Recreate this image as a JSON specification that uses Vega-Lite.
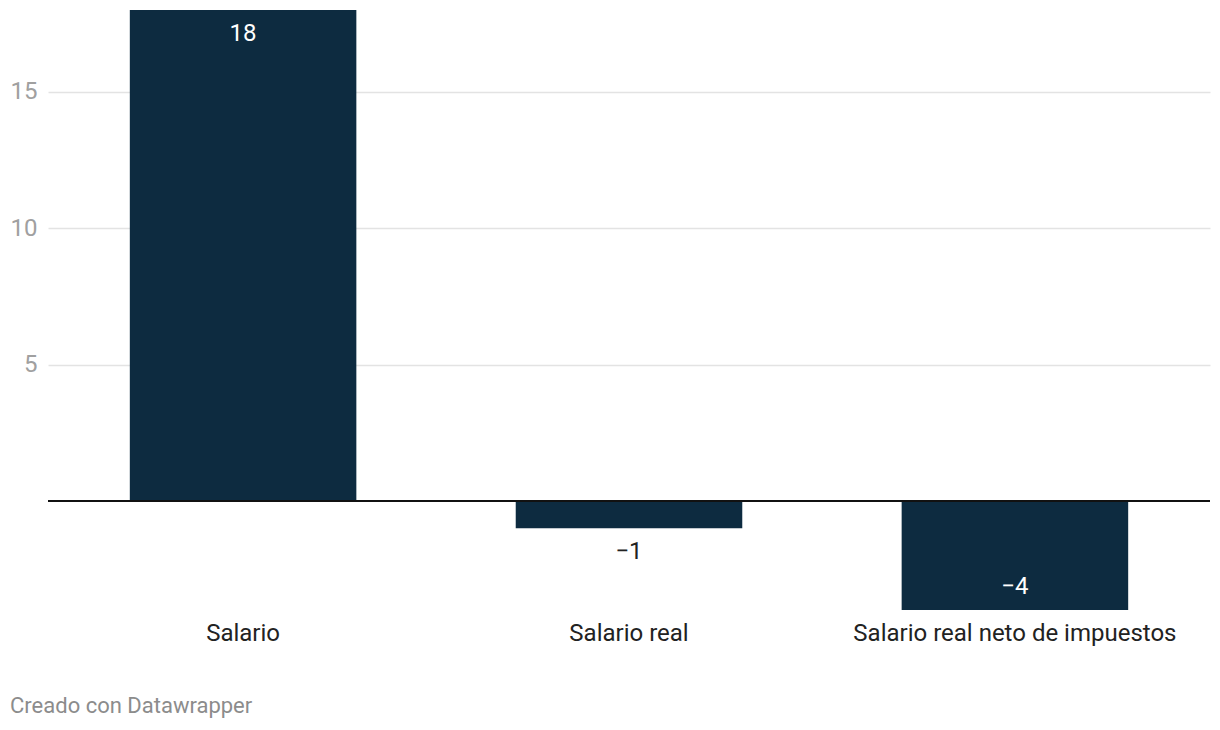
{
  "$schema": "https://vega.github.io/schema/vega-lite/v6.json",
  "autosize": {"type": "none"},
  "padding": {"left": 48, "top": 10, "right": 10, "bottom": 120},
  "width": 1162,
  "height": 600,
  "background": "white",
  "config": {
    "font": "Roboto",
    "view": {"stroke": null}
  },
  "title": {
    "text": "Creado con Datawrapper",
    "orient": "bottom",
    "anchor": "start",
    "dx": 0,
    "offset": 51,
    "fontSize": 22,
    "fontWeight": "normal",
    "color": "#8c8c8c",
    "font": "Roboto"
  },
  "data": {
    "values": [
      {"categoria": "Salario", "valor": 18},
      {"categoria": "Salario real", "valor": -1},
      {"categoria": "Salario real neto de impuestos", "valor": -4}
    ]
  },
  "layer": [
    {
      "mark": {"type": "bar", "color": "#0d2b40"},
      "encoding": {
        "x": {
          "field": "categoria",
          "type": "nominal",
          "sort": null,
          "scale": {"paddingInner": 0.413, "paddingOuter": 0.212},
          "axis": {
            "title": null,
            "labelAngle": 0,
            "domain": false,
            "ticks": false,
            "labelFontSize": 24,
            "labelColor": "#222222",
            "labelPadding": 11,
            "labelLimit": 0,
            "labelFont": "Roboto"
          }
        },
        "y": {
          "field": "valor",
          "type": "quantitative",
          "scale": {"domain": [-4, 18], "nice": false, "zero": true},
          "axis": {
            "title": null,
            "values": [5, 10, 15],
            "domain": false,
            "ticks": false,
            "grid": true,
            "gridColor": "#e3e3e3",
            "gridWidth": 1.5,
            "labelFontSize": 24,
            "labelColor": "#a0a0a0",
            "labelPadding": 11,
            "labelFont": "Roboto"
          }
        }
      }
    },
    {
      "mark": {"type": "rule", "color": "#111111", "strokeWidth": 2},
      "encoding": {"y": {"datum": 0, "type": "quantitative"}}
    },
    {
      "transform": [{"filter": "datum.valor > 5"}],
      "mark": {"type": "text", "baseline": "top", "dy": 12, "fontSize": 24, "color": "white", "font": "Roboto"},
      "encoding": {
        "x": {"field": "categoria", "type": "nominal", "sort": null},
        "y": {"field": "valor", "type": "quantitative"},
        "text": {"field": "valor", "type": "quantitative", "format": "d"}
      }
    },
    {
      "transform": [{"filter": "datum.valor <= 0 && datum.valor > -2"}],
      "mark": {"type": "text", "baseline": "top", "dy": 12, "fontSize": 24, "color": "#222222", "font": "Roboto"},
      "encoding": {
        "x": {"field": "categoria", "type": "nominal", "sort": null},
        "y": {"field": "valor", "type": "quantitative"},
        "text": {"field": "valor", "type": "quantitative", "format": "d"}
      }
    },
    {
      "transform": [{"filter": "datum.valor <= -2"}],
      "mark": {"type": "text", "baseline": "bottom", "dy": -11, "fontSize": 24, "color": "white", "font": "Roboto"},
      "encoding": {
        "x": {"field": "categoria", "type": "nominal", "sort": null},
        "y": {"field": "valor", "type": "quantitative"},
        "text": {"field": "valor", "type": "quantitative", "format": "d"}
      }
    }
  ]
}
